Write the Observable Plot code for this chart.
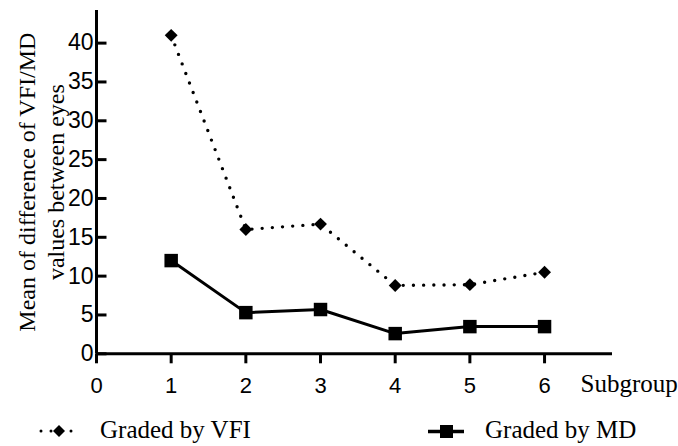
<!DOCTYPE html>
<html>
<head>
<meta charset="utf-8">
<script src="https://cdn.jsdelivr.net/npm/d3@7"></script>
<script src="https://cdn.jsdelivr.net/npm/@observablehq/plot@0.6"></script>
<style>
  html, body { margin: 0; padding: 0; background: #fff; }
  #wrap { position: relative; width: 678px; height: 446px; overflow: hidden; }
  #legend { position: absolute; left: 0; top: 400px; width: 678px; height: 46px;
            font-family: "Liberation Serif", "Times New Roman", serif; font-size: 25px; color: #000; }
  .item { position: absolute; top: 0; height: 46px; }
  .item svg { position: absolute; top: 0; }
  .item span { position: absolute; top: 15px; line-height: 30px; white-space: nowrap; }
</style>
</head>
<body>
<div id="wrap"></div>
<script>
// ---- data ----
const subgroups = [1, 2, 3, 4, 5, 6];
const vfiValues = [41.0, 16.0, 16.7, 8.8, 8.9, 10.5];
const mdValues  = [12.0, 5.3, 5.7, 2.6, 3.5, 3.5];
const xTicks = [0, 1, 2, 3, 4, 5, 6];
const yTicks = [0, 5, 10, 15, 20, 25, 30, 35, 40];
const seriesNames = ["Graded by VFI", "Graded by MD"];
const yTitle = "Mean of difference of VFI/MD\nvalues between eyes";
const xTitle = "Subgroup";

const vfi = subgroups.map((s, i) => ({x: s, y: vfiValues[i]}));
const md  = subgroups.map((s, i) => ({x: s, y: mdValues[i]}));
const yTickRows = yTicks.map(v => ({y: v}));

const sans = "Liberation Sans, Arial, sans-serif";
const serif = "Liberation Serif, Times New Roman, serif";

const W = 678, H = 400, mL = 96, mR = 66, mT = 10, mB = 46.7;
const xDomain = [0, 6.91];

const chart = Plot.plot({
  width: W,
  height: H,
  marginLeft: mL,
  marginRight: mR,
  marginTop: mT,
  marginBottom: mB,
  style: {fontFamily: sans, fontSize: "22px", background: "#fff", color: "#000", overflow: "visible"},
  x: {domain: xDomain},
  y: {domain: [0, 44.2]},
  marks: [
    Plot.axisY({ticks: yTicks, tickFormat: d => String(d), tickSize: 0, tickPadding: 3, fontSize: 23, label: null, fill: "#000"}),
    Plot.axisX({ticks: xTicks, tickFormat: d => String(d), tickSize: 10, tickPadding: 14, strokeWidth: 3, fontSize: 22, label: null, fill: "#000"}),
    // inward y ticks: zero-length vertical rules widened via dx are avoided; use tickY-like rules
    Plot.ruleY(yTickRows, {y: "y", frameAnchor: "left", x1: xDomain[0], x2: xDomain[0], dx: 0, stroke: "#000", strokeWidth: 3}),
    Plot.dot(yTickRows, {y: "y", frameAnchor: "left", symbol: {draw(ctx) { ctx.moveTo(0, 0); ctx.lineTo(10, 0); }}, r: 1, stroke: "#000", strokeWidth: 3, fill: "none"}),
    Plot.ruleX([0], {stroke: "#000", strokeWidth: 3}),
    Plot.ruleY([0], {stroke: "#000", strokeWidth: 3}),
    Plot.line(vfi, {x: "x", y: "y", stroke: "#000", strokeWidth: 3.4, strokeDasharray: "0 10.2", strokeLinecap: "round"}),
    Plot.dot(vfi, {x: "x", y: "y", symbol: "diamond2", r: 5.8, fill: "#000", stroke: "none"}),
    Plot.line(md, {x: "x", y: "y", stroke: "#000", strokeWidth: 3}),
    Plot.dot(md, {x: "x", y: "y", symbol: "square", r: 7.6, fill: "#000", stroke: "none"}),
    Plot.text([yTitle], {frameAnchor: "left", textAnchor: "middle", rotate: -90, dx: -56, lineAnchor: "middle", lineHeight: 1.18,
      fontFamily: serif, fontSize: 24, fill: "#000"}),
    Plot.text([xTitle], {frameAnchor: "bottom-right", textAnchor: "start", lineAnchor: "top", dx: -32, dy: 20,
      fontFamily: serif, fontSize: 25, fill: "#000"})
  ]
});

const wrap = document.getElementById("wrap");
wrap.appendChild(chart);

// ---- legend (below the SVG) ----
const legend = document.createElement("div");
legend.id = "legend";
legend.innerHTML = `
  <div class="item" style="left:38px;width:300px">
    <svg width="44" height="46">
      <line x1="3" y1="31" x2="41" y2="31" stroke="#000" stroke-width="3" stroke-linecap="round" stroke-dasharray="0 10"/>
      <path d="M21,25 L27,31 L21,37 L15,31 Z" fill="#000"/>
    </svg>
    <span style="left:62px">${seriesNames[0]}</span>
  </div>
  <div class="item" style="left:427px;width:250px">
    <svg width="40" height="46">
      <line x1="1" y1="31.5" x2="37" y2="31.5" stroke="#000" stroke-width="3.5"/>
      <rect x="13" y="25" width="13" height="13" fill="#000"/>
    </svg>
    <span style="left:58px">${seriesNames[1]}</span>
  </div>`;
wrap.appendChild(legend);
</script>
</body>
</html>
